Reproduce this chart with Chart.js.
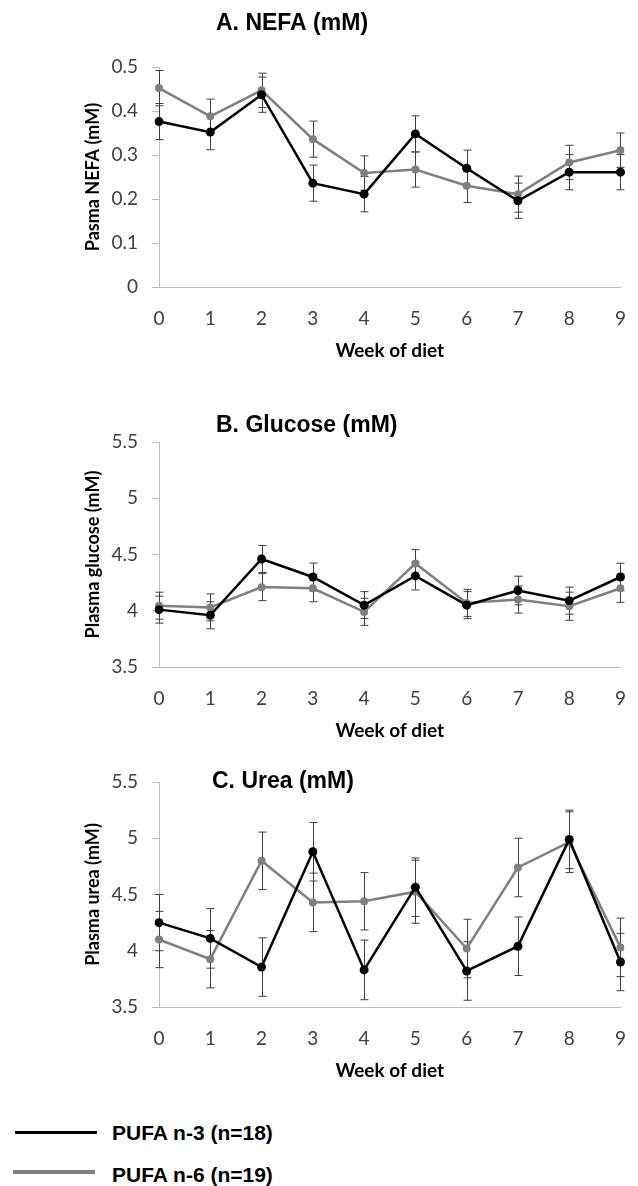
<!DOCTYPE html>
<html>
<head>
<meta charset="utf-8">
<title>Plasma NEFA, glucose and urea by week of diet</title>
<script src="https://cdn.jsdelivr.net/npm/chart.js@4.4.0/dist/chart.umd.min.js"></script>
<style>
  html, body { margin: 0; padding: 0; background: #fff; }
  body { width: 638px; height: 1186px; position: relative; overflow: hidden; }
  canvas { position: absolute; left: 0; }
  .key-line { position: absolute; }
  .key-text { position: absolute; left: 112px; font: bold 21px "Liberation Sans", Arial, sans-serif; color: #000; line-height: 24px; white-space: nowrap; }
</style>
</head>
<body>
<canvas id="nefa" width="638" height="370" style="top:0px"></canvas>
<canvas id="glucose" width="638" height="370" style="top:380px"></canvas>
<canvas id="urea" width="638" height="370" style="top:720px"></canvas>

<div class="key-line" style="left:15px;top:1131px;width:82px;height:3px;background:#000"></div>
<div class="key-text" style="top:1121px">PUFA n-3 (n=18)</div>
<div class="key-line" style="left:13px;top:1170px;width:82px;height:4px;background:#808080"></div>
<div class="key-text" style="top:1163px">PUFA n-6 (n=19)</div>

<script>
// weeks on the x axis
const weeks = ['0', '1', '2', '3', '4', '5', '6', '7', '8', '9'];

// A. NEFA (mM)
const nefaTicks = [0, 0.1, 0.2, 0.3, 0.4, 0.5];
const nefaN3 = [0.376, 0.352, 0.437, 0.236, 0.211, 0.348, 0.270, 0.196, 0.261, 0.261];
const nefaN3Err = [0.041, 0.040, 0.040, 0.041, 0.040, 0.041, 0.041, 0.040, 0.040, 0.040];
const nefaN6 = [0.452, 0.388, 0.447, 0.336, 0.259, 0.267, 0.230, 0.211, 0.283, 0.311];
const nefaN6Err = [0.040, 0.039, 0.039, 0.041, 0.039, 0.040, 0.038, 0.041, 0.039, 0.039];

// B. Glucose (mM)
const glucoseTicks = [3.5, 4, 4.5, 5, 5.5];
const glucoseN3 = [4.01, 3.96, 4.46, 4.30, 4.05, 4.31, 4.05, 4.18, 4.09, 4.30];
const glucoseN3Err = [0.12, 0.12, 0.12, 0.124, 0.12, 0.125, 0.12, 0.127, 0.12, 0.122];
const glucoseN6 = [4.045, 4.03, 4.21, 4.20, 3.99, 4.42, 4.07, 4.10, 4.04, 4.20];
const glucoseN6Err = [0.12, 0.12, 0.12, 0.12, 0.12, 0.123, 0.12, 0.121, 0.125, 0.125];

// C. Urea (mM)
const ureaTicks = [3.5, 4, 4.5, 5, 5.5];
const ureaN3 = [4.25, 4.11, 3.855, 4.88, 3.83, 4.565, 3.82, 4.04, 4.99, 3.90];
const ureaN3Err = [0.25, 0.265, 0.26, 0.26, 0.265, 0.26, 0.26, 0.26, 0.26, 0.255];
const ureaN6 = [4.10, 3.925, 4.80, 4.43, 4.44, 4.525, 4.02, 4.74, 4.965, 4.03];
const ureaN6Err = [0.25, 0.255, 0.255, 0.26, 0.255, 0.28, 0.26, 0.26, 0.27, 0.26];

const tickFont = { family: 'Lato', size: 19 };
const xTitleFont = { family: 'Lato', size: 19, weight: 'bold' };
const yTitleFont = { family: 'Lato', size: 18, weight: 'bold' };

// vertical error bars with small caps, drawn under the markers
const errorBars = {
  id: 'errorBars',
  beforeDatasetsDraw(chart) {
    const ctx = chart.ctx;
    const yScale = chart.scales.y;
    chart.data.datasets.forEach((ds, i) => {
      const meta = chart.getDatasetMeta(i);
      ctx.save();
      ctx.strokeStyle = '#404040';
      ctx.lineWidth = 1;
      meta.data.forEach((pt, j) => {
        const top = yScale.getPixelForValue(ds.data[j] + ds.errors[j]);
        const bot = yScale.getPixelForValue(ds.data[j] - ds.errors[j]);
        const x = Math.round(pt.x) + 0.5;
        ctx.beginPath();
        ctx.moveTo(x, top); ctx.lineTo(x, bot);
        ctx.moveTo(x - 4, top); ctx.lineTo(x + 4, top);
        ctx.moveTo(x - 4, bot); ctx.lineTo(x + 4, bot);
        ctx.stroke();
      });
      ctx.restore();
    });
  }
};

// panel heading, placed left of centre like in the figure
const panelTitle = {
  id: 'panelTitle',
  afterDraw(chart, args, opts) {
    const ctx = chart.ctx;
    ctx.save();
    ctx.font = 'bold 23px "Liberation Sans", Arial, sans-serif';
    ctx.fillStyle = '#000';
    ctx.textAlign = 'left';
    ctx.textBaseline = 'middle';
    ctx.fillText(opts.text, opts.x, opts.y);
    ctx.restore();
  }
};

function makePanel(id, heading, headX, headY, padTop, yTitle, yTicks, n3, n3Err, n6, n6Err) {
  const ctx = document.getElementById(id).getContext('2d');
  return new Chart(ctx, {
    type: 'line',
    data: {
      labels: weeks,
      datasets: [{
        label: 'PUFA n-3 (n=18)',
        data: n3,
        errors: n3Err,
        borderColor: '#000000',
        backgroundColor: '#000000',
        borderWidth: 2.5,
        pointRadius: 4.5,
        pointBorderWidth: 0,
        tension: 0
      }, {
        label: 'PUFA n-6 (n=19)',
        data: n6,
        errors: n6Err,
        borderColor: '#808080',
        backgroundColor: '#808080',
        borderWidth: 2.5,
        pointRadius: 4,
        pointBorderWidth: 0,
        tension: 0
      }]
    },
    options: {
      responsive: false,
      animation: false,
      devicePixelRatio: 1,
      layout: { padding: { top: padTop, left: 78, right: 8, bottom: 4 } },
      scales: {
        x: {
          type: 'category',
          offset: false,
          afterFit: s => { s.height = 79; },
          grid: { display: false },
          border: { display: true, color: '#bfbfbf', width: 1 },
          ticks: { color: '#404040', font: tickFont, padding: 12, maxRotation: 0 },
          title: { display: true, text: 'Week of diet', color: '#000', font: xTitleFont, padding: { top: 4, bottom: 4 } }
        },
        y: {
          min: yTicks[0],
          max: yTicks[yTicks.length - 1],
          afterBuildTicks: s => { s.ticks = yTicks.map(v => ({ value: v })); },
          afterFit: s => { s.width = 81; },
          grid: { display: true, drawOnChartArea: false, drawTicks: true, tickLength: 7, color: '#bfbfbf' },
          border: { display: true, color: '#bfbfbf', width: 1 },
          ticks: { color: '#404040', font: tickFont, padding: 14, callback: v => String(v) },
          title: { display: true, text: yTitle, color: '#000', font: yTitleFont, padding: { top: 4, bottom: 4 } }
        }
      },
      plugins: {
        legend: { display: false },
        tooltip: { enabled: false },
        panelTitle: { text: heading, x: headX, y: headY }
      }
    },
    plugins: [errorBars, panelTitle]
  });
}

makePanel('nefa', 'A. NEFA (mM)', 216, 24, 67, 'Pasma NEFA (mM)', nefaTicks, nefaN3, nefaN3Err, nefaN6, nefaN6Err);
makePanel('glucose', 'B. Glucose (mM)', 216, 46, 62, 'Plasma glucose (mM)', glucoseTicks, glucoseN3, glucoseN3Err, glucoseN6, glucoseN6Err);
makePanel('urea', 'C. Urea (mM)', 212, 62, 62, 'Plasma urea (mM)', ureaTicks, ureaN3, ureaN3Err, ureaN6, ureaN6Err);
</script>
</body>
</html>
